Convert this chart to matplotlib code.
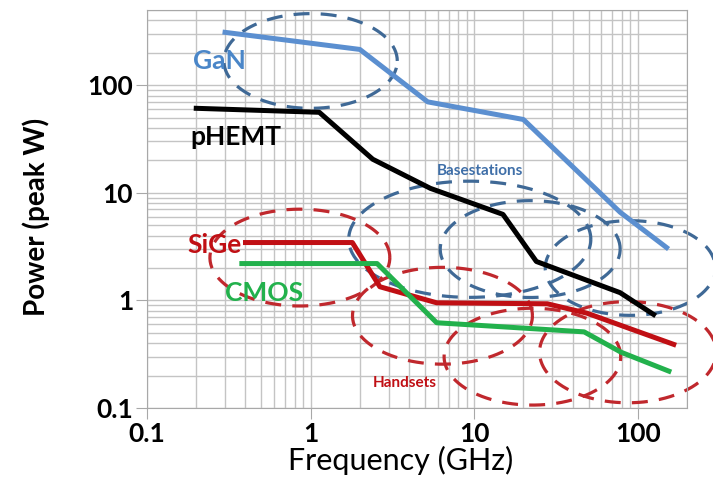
import numpy as np
import matplotlib
matplotlib.use("Agg")
import matplotlib.pyplot as plt

# ---- data (GHz, peak W) ----
gan_f = [0.3, 2.0, 5.2, 20, 78, 150]
gan_p = [310, 215, 70, 48, 6.6, 3.1]

phemt_f = [0.2, 1.13, 2.4, 5.4, 15, 24, 78, 125]
phemt_p = [61, 56, 20.5, 11, 6.3, 2.3, 1.18, 0.74]

sige_f = [0.4, 1.8, 2.65, 5.9, 28, 49, 166]
sige_p = [3.45, 3.45, 1.34, 0.95, 0.93, 0.76, 0.39]

cmos_f = [0.38, 2.55, 5.9, 47, 79, 155]
cmos_p = [2.2, 2.2, 0.62, 0.51, 0.33, 0.22]

# dashed ellipses: centre (GHz, W) and half-size in decades
blue_cx = [1.0, 9.4, 22, 90]
blue_cy = [168, 3.7, 3.0, 2.0]
blue_w = [0.53, 0.74, 0.55, 0.52]
blue_h = [0.44, 0.54, 0.45, 0.44]

red_cx = [0.86, 6.4, 22.7, 87]
red_cy = [2.5, 0.72, 0.30, 0.33]
red_w = [0.55, 0.55, 0.54, 0.54]
red_h = [0.45, 0.45, 0.45, 0.47]

x_ticks = [0.1, 1, 10, 100]
x_ticklabels = ["0.1", "1", "10", "100"]
y_ticks = [0.1, 1, 10, 100]
y_ticklabels = ["0.1", "1", "10", "100"]

plt.rcParams["font.family"] = ["Lato", "DejaVu Sans"]

fig = plt.figure(figsize=(7.13, 4.87), dpi=100)
ax = fig.add_axes([147 / 713, 79 / 487, 540 / 713, 398 / 487])
ax.set_xscale("log")
ax.set_yscale("log")
ax.set_xlim(0.1, 200)
ax.set_ylim(0.1, 500)

ax.grid(True, which="both", color="#c4c4c4", linewidth=1.0)
ax.set_axisbelow(True)
for s in ax.spines.values():
    s.set_color("#a8a8a8")

t = np.linspace(0, 2 * np.pi, 200)


def draw_ellipse(cx, cy, w, h, color):
    lx = np.log10(cx) + w * np.cos(t)
    ly = np.log10(cy) + h * np.sin(t)
    ax.plot(10 ** lx, 10 ** ly, color=color, linewidth=2.3,
            dashes=(5, 3.5), clip_on=False, zorder=2)


for cx, cy, w, h in zip(blue_cx, blue_cy, blue_w, blue_h):
    draw_ellipse(cx, cy, w, h, "#3f6996")
for cx, cy, w, h in zip(red_cx, red_cy, red_w, red_h):
    draw_ellipse(cx, cy, w, h, "#c0282d")

ax.plot(gan_f, gan_p, color="#5b8fd0", linewidth=3.6, zorder=3)
ax.plot(phemt_f, phemt_p, color="black", linewidth=3.6, zorder=3)
ax.plot(sige_f, sige_p, color="#c00f14", linewidth=3.6, zorder=3)
ax.plot(cmos_f, cmos_p, color="#22b14c", linewidth=3.6, zorder=3)

lbl = dict(fontsize=19, fontweight="bold", ha="center", va="center")
ax.text(0.277, 168, "GaN", color="#4a86c8", **lbl)
ax.text(0.347, 33, "pHEMT", color="black", **lbl)
ax.text(0.258, 3.3, "SiGe", color="#c00f14", **lbl)
ax.text(0.52, 1.18, "CMOS", color="#22b14c", **lbl)
ax.text(10.9, 15.9, "Basestations", color="#3f6fa8", fontsize=11, fontweight="bold",
        ha="center", va="center")
ax.text(3.78, 0.171, "Handsets", color="#c00f14", fontsize=11, fontweight="bold",
        ha="center", va="center")

ax.set_xticks(x_ticks)
ax.set_xticklabels(x_ticklabels)
ax.set_yticks(y_ticks)
ax.set_yticklabels(y_ticklabels)
ax.minorticks_on()
ax.tick_params(which="minor", length=0)
ax.tick_params(which="major", length=8, color="#a8a8a8", labelsize=19, pad=2)
for lab in ax.get_xticklabels() + ax.get_yticklabels():
    lab.set_fontweight("bold")

ax.set_xlabel("Frequency (GHz)", fontsize=22)
ax.xaxis.set_label_coords(0.47, -0.095)
ax.set_ylabel("Power (peak W)", fontsize=20, fontweight="bold")
ax.yaxis.set_label_coords(-0.18, 0.48)

fig.savefig("out.png", dpi=100)
